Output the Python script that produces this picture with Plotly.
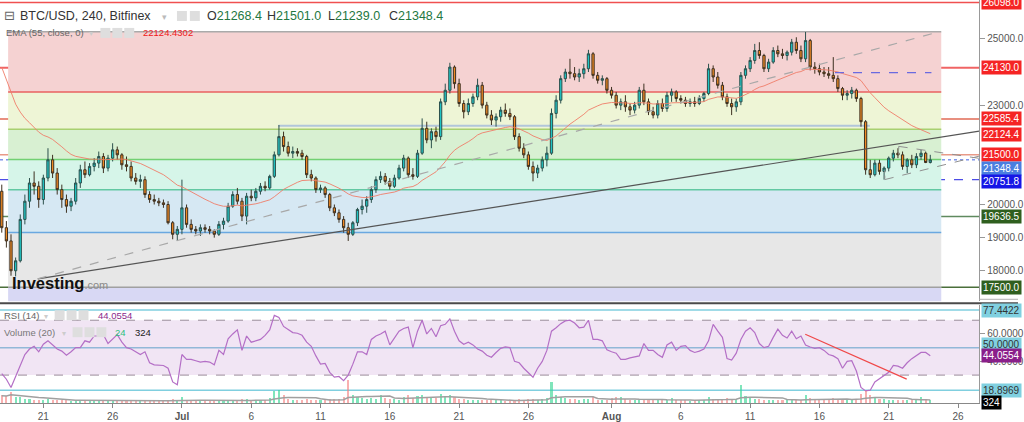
import plotly.graph_objects as go
import pandas as pd

W, H = 1024, 422
FONT = "Liberation Sans, Arial, sans-serif"

# ---------------- data (8h candles) ----------------
first_open = 20400
closes = [
    19300, 18900, 18000,  18300, 19550, 20100,  20650, 20550, 20150,  20800, 21350, 20950,
    20450, 20150, 19950,  20100, 20650, 21050,  20900, 21150, 21250,  21450, 21100, 21400,
    21650, 21500, 21200,  21150, 20800, 20700,  20750, 20300, 20150,  20100, 20050, 20000,
    19450, 19100, 19250,  19900, 19400, 19250,  19200, 19300, 19250,  19200, 19100, 19400,
    19500, 19950, 20300,  20100, 19650, 20250,  20200, 20400, 20550,  20500, 20850, 21500,
    22050, 21750, 21550,  21600, 21550, 21450,  20900, 20800, 20450,  20500, 20300, 19900,
    19750, 19550, 19300,  19100, 19450, 19850,  19950, 20150, 20450,  20750, 20850, 20700,
    20550, 20800, 21100,  21400, 20900, 20850,  21550, 22300, 21950,  22200, 22050, 23100,
    23450, 24150, 23650,  23050, 22800, 23050,  23250, 23600, 23000,  22700, 22550, 22650,
    22850, 22750, 22650,  22050, 21700, 21500,  21150, 20950, 21100,  21350, 21550, 22750,
    23150, 23800, 24000,  23950, 23850, 23950,  24100, 24550, 23900,  23750, 23800, 23450,
    23300, 23000, 23100,  22950, 22850, 23000,  23450, 23100, 22800,  22700, 23050, 22900,
    23300, 23400, 23200,  23150, 23050, 23100,  23050, 23200, 23350,  24100, 23850, 23600,
    23250, 23050, 22950,  23100, 23900, 24100,  24350, 24650, 24500,  24100, 24300, 24650,
    24550, 24500, 24600,  24900, 24650, 24400,  24950, 24150, 24100,  24000, 23950, 23900,
    23800, 23500, 23300,  23350, 23450, 23200,  22500, 21050, 20900,  21250, 21000, 21100,
    21400, 21550, 21500,  21150, 21350, 21200,  21450, 21550, 21268.4, 21348.4,
]
highs = [
    20600, 19500, 19100,  18400, 19700, 20300,  20800, 21000, 20700,  20900, 21700, 21500,
    21100, 20600, 20300,  20200, 20800, 21200,  21300, 21250, 21400,  21600, 21550, 21500,
    21850, 21750, 21550,  21450, 21300, 20950,  20900, 20850, 20400,  20300, 20200, 20150,
    20100, 19500, 19350,  20750, 20000, 19550,  19350, 19400, 19400,  19350, 19250, 19500,
    19600, 20050, 20400,  20500, 20200, 20350,  20450, 20500, 20650,  20700, 20900, 21600,
    22400, 22200, 21900,  21750, 21700, 21650,  21500, 21050, 20850,  20600, 20550, 20350,
    20000, 19850, 19650,  19450, 19500, 19900,  20150, 20250, 20550,  20850, 21000, 20950,
    20800, 20900, 21200,  21500, 21450, 21100,  21650, 22600, 22500,  22300, 22350, 23200,
    23650, 24280, 24200,  23800, 23150, 23200,  23350, 23800, 23700,  23100, 22850, 22750,
    22950, 23050, 22900,  22700, 22150, 21850,  21600, 21300, 21200,  21450, 21750, 22900,
    23300, 23900, 24100,  24400, 24150, 24100,  24250, 24670, 24600,  24000, 23900, 23850,
    23550, 23400, 23200,  23300, 23050, 23100,  23550, 23650, 23200,  22950, 23150, 23200,
    23400, 23500, 23450,  23300, 23250, 23200,  23250, 23300, 23400,  24250, 24200, 24000,
    23700, 23350, 23200,  23200, 24000, 24200,  24450, 24850, 24900,  24550, 24400, 24750,
    24800, 24700, 24650,  25000, 25050, 24800,  25210, 25000, 24300,  24250, 24150, 24150,
    24450, 23900, 23550,  23450, 23550, 23500,  23250, 22550, 21350,  21350, 21350, 21150,
    21450, 21650, 21700,  21600, 21400, 21500,  21550, 21650, 21600,  21501,
]
lows = [
    19150, 18700, 17850,  17830, 18250, 19400,  19900, 20300, 19900,  20000, 20700, 20800,
    20300, 19900, 19750,  19800, 20000, 20500,  20800, 20850, 21000,  21100, 20950, 21000,
    21300, 21350, 21050,  21000, 20700, 20600,  20500, 20200, 20050,  20000, 19950, 19900,
    19400, 18950, 18900,  19100, 19300, 19150,  19100, 19050, 19150,  19100, 19000, 19050,
    19250, 19450, 19900,  20000, 19500, 19400,  20100, 20100, 20300,  20400, 20450, 20800,
    21450, 21600, 21450,  21400, 21450, 21350,  20800, 20700, 20350,  20350, 20200, 19800,
    19650, 19450, 19150,  18900, 19050, 19350,  19700, 19750, 20050,  20350, 20650, 20600,
    20450, 20500, 20750,  21000, 20800, 20750,  20800, 21500, 21850,  21700, 21900, 21950,
    23000, 23350, 23500,  22950, 22600, 22700,  22950, 23150, 22900,  22600, 22400, 22350,
    22500, 22650, 22550,  21950, 21600, 21400,  21050, 20700, 20800,  21000, 21150, 21500,
    22600, 23050, 23700,  23800, 23750, 23700,  23800, 24000, 23800,  23650, 23600, 23350,
    23200, 22900, 22850,  22800, 22700, 22750,  22900, 23000, 22700,  22600, 22600, 22800,
    22800, 23100, 23100,  23050, 22950, 22950,  22950, 23000, 23100,  23300, 23700, 23500,
    23150, 22950, 22700,  22800, 23000, 23800,  24000, 24250, 24400,  24000, 24000, 24250,
    24450, 24400, 24350,  24500, 24550, 24300,  24300, 24050, 23950,  23900, 23850, 23800,
    23700, 23400, 23150,  23150, 23200, 23100,  22350, 20900, 20800,  20850, 20900, 20750,
    21000, 21300, 21400,  21050, 20950, 21100,  21100, 21350, 21250,  21239,
]
volumes = [
    900, 850, 1300, 750, 650, 500, 450, 380, 350,
    400, 450, 350, 300, 280, 350, 250, 300, 320, 280, 260, 300,
    250, 300, 220, 350, 260, 240, 280, 300, 250, 260, 350, 300, 240, 220, 250, 380, 450, 350,
    650, 400, 300, 200, 180, 200, 180, 200, 260, 300, 350, 400, 350, 450, 420, 300, 280, 300, 350,
    600, 1450, 1550, 900, 500,
    300, 280, 300, 420, 380, 400, 300, 350, 450, 420, 500,
    650, 2800, 950, 700, 600, 500,
    550, 450, 900, 600, 500, 450, 400, 700, 900, 600, 800, 1000, 750, 600, 550, 1050, 700, 900, 650,
    500, 450, 350, 400, 350, 300, 350, 300, 280, 300, 260, 280, 400, 420, 380, 450, 500, 400, 420,
    600, 2600, 900, 750, 600, 500, 450,
    400, 450, 500, 650, 400, 350, 320, 600, 700, 650, 450, 400, 380, 400, 450, 380, 350, 400, 380, 350, 550,
    400, 300, 280, 260, 300, 320, 350, 700, 500, 450, 450, 600, 500, 450,
    2200, 800, 600, 500, 450, 400, 350, 380, 350, 300, 300, 350, 400, 380,
    900, 600, 450, 400, 350, 400, 550, 500, 450, 400, 380, 450,
    1100, 1400, 1000, 650, 500, 450, 400, 350, 330, 380, 350, 300, 350, 650, 450, 324,
]
rsi = [
    31, 27, 21, 29, 38, 45, 49, 51, 47, 52.5, 55, 52, 49, 47.5, 44.5, 47, 50, 50, 55, 54,
    58.5, 58.5, 59.5, 53, 56, 59.5, 54, 50, 49, 47, 45, 47, 39, 37.5, 37, 37, 35, 25, 23, 45,
    41.5, 41.5, 40.5, 39.5, 40, 39.5, 37.5, 48, 45, 56.5, 60, 63, 48, 58.5, 54, 55, 56, 59, 63, 73.5,
    72, 65.5, 63, 61, 60.5, 59, 54, 51, 44, 38, 38.5, 32, 28.5, 29, 26, 30, 38, 47, 47, 45,
    56, 58.5, 60, 62, 52, 57, 62, 64, 65, 50, 62, 70, 60, 64, 58, 66, 67, 71, 62, 55,
    52.5, 54, 52, 49, 47.5, 44.5, 43, 46.5, 49.5, 50.5, 50, 40, 39, 35, 31.5, 28.5, 35, 40, 48, 62,
    64.5, 67.5, 69.5, 70, 68, 64.5, 65, 70, 56, 56, 55, 48.5, 47, 46, 41.5, 41.5, 42.5, 43.5, 44, 53,
    48, 48, 45, 43, 52, 54, 48, 51, 51.5, 48, 46.5, 47.5, 49, 55, 67, 62, 57.5, 42, 41, 46,
    56, 62, 64.5, 61, 53, 50, 51, 57.5, 63.5, 59, 57, 62, 56.5, 58.5, 52, 50.5, 49.5, 50, 48, 45,
    44, 42, 35, 40, 40.5, 33, 21, 18.5, 19, 25, 27.5, 29.5, 32, 37, 36.5, 35, 39, 42, 44, 46.5,
    46.5, 44.0554,
]
ema_seed = 24140
ema_span = 28           # EMA(55) on 4h bars ~ span 28 on 8h bars
vol_ma_window = 10

# indicator lines / levels
fib_high, fib_low = 25220, 17500
fib_ratios = [0, 0.236, 0.382, 0.5, 0.618, 0.786, 1, 1.272]
fib_band_colors = ["rgb(245,210,210)", "rgb(238,245,214)", "rgb(216,240,210)",
                   "rgb(214,245,233)", "rgb(214,232,243)", "rgb(231,231,231)", "rgb(216,216,244)"]
fib_line_colors = ["#aaaaaa", "#e86060", "#a8d070", "#72d072", "#62c8a2", "#6aa8e0", "#a0a0a0"]
fib_x0, fib_x1 = "2022-06-18 11:00", "2022-08-24 19:00"

user_levels = [26098, 24130, 22585.4, 21500, 20751.8, 19636.5, 17500]
user_colors = ["#f05050", "#f06464", "#e06a55", "#e89a88", "#4d4de6", "#5f8a5f", "#4a6f3a"]
user_widths = [1.5, 2, 1.5, 1.5, 1.2, 1.5, 1.5]
user_dash = ["solid", "solid", "solid", "solid", "dash", "solid", "solid"]
last_price = 21348.4

seg_steel = ("2022-07-07 23:00", "2022-08-19 15:20", 22380)
seg_purple = ("2022-08-17 03:00", "2022-08-24 02:00", 23985)
trend_solid = ("2022-06-20 14:20", 17756, "2022-08-27 12:46", 22214)
trend_dashed = ("2022-06-20 14:20", 17756, "2022-08-24 15:55", 25220)
chan_upper = ("2022-08-21 17:20", 21756, "2022-08-27 12:46", 21394)
chan_upper_tick = ("2022-08-21 17:20", 21756, 21506)
chan_lower = ("2022-08-20 17:15", 20753, "2022-08-27 12:46", 21461)
chan_lower_tick = ("2022-08-20 17:15", 21054, 20753)
rsi_trend = ("2022-08-14 23:30", 59.8, "2022-08-22 07:10", 27.1)
rsi_levels = [77.4422, 50, 18.8969]

main_ticks = [18000, 19000, 20000, 23000, 25000]
rsi_ticks = [40, 60]
xtick_dates = ["2022-06-21", "2022-06-26", "2022-07-01", "2022-07-06", "2022-07-11",
               "2022-07-16", "2022-07-21", "2022-07-26", "2022-08-01", "2022-08-06",
               "2022-08-11", "2022-08-16", "2022-08-21", "2022-08-26"]
xtick_text = ["21", "26", "<b>Jul</b>", "6", "11", "16", "21", "26", "<b>Aug</b>",
              "6", "11", "16", "21", "26"]

X_RANGE = ["2022-06-17 20:56", "2022-08-27 12:46"]
Y_MAIN = [17078, 26175]
Y_RSI = [9.64, 80.9]
Y_VOL = [0, 12000]

# ---------------- derived ----------------
n = len(closes)
dates = pd.date_range("2022-06-18 00:00", periods=n, freq="8h")
opens = [first_open] + closes[:-1]
alpha = 2 / (ema_span + 1)
ema = [ema_seed]
for c in closes[1:]:
    ema.append(ema[-1] + alpha * (c - ema[-1]))
vol_ma = pd.Series(volumes).rolling(vol_ma_window, min_periods=1).mean().tolist()
vcolors = ["rgba(60,215,150,0.65)" if closes[i] >= opens[i] else "rgba(245,125,125,0.6)"
           for i in range(len(volumes))]


def px(x):
    return x / W


def py(y):
    return 1 - y / H


XD = [0, 985 / W]
fig = go.Figure()

fig.add_trace(go.Candlestick(
    x=dates, open=opens, high=highs, low=lows, close=closes,
    increasing=dict(line=dict(color="#2c504c", width=1), fillcolor="#20c4c4"),
    decreasing=dict(line=dict(color="#3d3020", width=1), fillcolor="#f08a24"),
    whiskerwidth=0, hoverinfo="skip", xaxis="x", yaxis="y", showlegend=False))
fig.add_trace(go.Scatter(x=dates, y=ema, mode="lines", hoverinfo="skip",
                         line=dict(color="rgba(240,125,105,0.9)", width=1), xaxis="x", yaxis="y"))
fig.add_trace(go.Bar(x=dates[:len(volumes)], y=volumes, marker=dict(color=vcolors, line=dict(width=0)),
                     width=8 * 3600 * 1000 * 0.45, xaxis="x2", yaxis="y3", hoverinfo="skip"))
fig.add_trace(go.Scatter(x=dates[:len(vol_ma)], y=vol_ma, mode="lines", hoverinfo="skip",
                         line=dict(color="#a0a0a0", width=1.5), xaxis="x2", yaxis="y3"))
fig.add_trace(go.Scatter(x=dates[:len(rsi)], y=rsi, mode="lines", hoverinfo="skip",
                         line=dict(color="#b46fc6", width=1.2), xaxis="x2", yaxis="y2"))

shapes = []
# fib bands
for i in range(len(fib_ratios) - 1):
    p0 = fib_high - fib_ratios[i] * (fib_high - fib_low)
    p1 = fib_high - fib_ratios[i + 1] * (fib_high - fib_low)
    shapes.append(dict(type="rect", xref="x", yref="y", x0=fib_x0, x1=fib_x1, y0=p1, y1=p0,
                       fillcolor=fib_band_colors[i], line=dict(width=0), layer="below"))
for i in range(len(fib_ratios) - 1):
    p = fib_high - fib_ratios[i] * (fib_high - fib_low)
    shapes.append(dict(type="line", xref="x", yref="y", x0=fib_x0, x1=fib_x1, y0=p, y1=p,
                       line=dict(color=fib_line_colors[i], width=1.5), layer="below"))
# user horizontal levels
for lv, col, wd, ds in zip(user_levels, user_colors, user_widths, user_dash):
    shapes.append(dict(type="line", xref="x domain", yref="y", x0=0, x1=1, y0=lv, y1=lv,
                       line=dict(color=col, width=wd, dash=ds), layer="below"))
shapes.append(dict(type="line", xref="x domain", yref="y", x0=0, x1=1, y0=last_price, y1=last_price,
                   line=dict(color="#4060e0", width=1, dash="dot"), layer="below"))
shapes.append(dict(type="line", xref="x", yref="y", x0=seg_steel[0], x1=seg_steel[1],
                   y0=seg_steel[2], y1=seg_steel[2], line=dict(color="#b2c6da", width=2), layer="below"))
shapes.append(dict(type="line", xref="x", yref="y", x0=seg_purple[0], x1=seg_purple[1],
                   y0=seg_purple[2], y1=seg_purple[2], line=dict(color="#6a6ae0", width=1.2, dash="dash")))
# trend lines
shapes.append(dict(type="line", xref="x", yref="y", x0=trend_solid[0], y0=trend_solid[1],
                   x1=trend_solid[2], y1=trend_solid[3], line=dict(color="#555555", width=1.2)))
shapes.append(dict(type="line", xref="x", yref="y", x0=trend_dashed[0], y0=trend_dashed[1],
                   x1=trend_dashed[2], y1=trend_dashed[3], line=dict(color="#a8a8a8", width=1.2, dash="dash")))
for seg in (chan_upper, chan_lower):
    shapes.append(dict(type="line", xref="x", yref="y", x0=seg[0], y0=seg[1], x1=seg[2], y1=seg[3],
                       line=dict(color="#909090", width=1, dash="dash")))
for tk in (chan_upper_tick, chan_lower_tick):
    shapes.append(dict(type="line", xref="x", yref="y", x0=tk[0], x1=tk[0], y0=tk[1], y1=tk[2],
                       line=dict(color="#909090", width=1, dash="dot")))
# RSI panel
shapes.append(dict(type="rect", xref="x2 domain", yref="y2", x0=0, x1=1, y0=30, y1=70,
                   fillcolor="rgb(241,229,244)", line=dict(width=0), layer="below"))
for lv in (70, 30):
    shapes.append(dict(type="line", xref="x2 domain", yref="y2", x0=0, x1=1, y0=lv, y1=lv,
                       line=dict(color="#9a8c9a", width=1, dash="dash"), layer="below"))
for lv, col in zip(rsi_levels, ["#80cfdf", "#92b8d8", "#80cfdf"]):
    shapes.append(dict(type="line", xref="x2 domain", yref="y2", x0=0, x1=1, y0=lv, y1=lv,
                       line=dict(color=col, width=1.5), layer="below"))
shapes.append(dict(type="line", xref="x2", yref="y2", x0=rsi_trend[0], y0=rsi_trend[1],
                   x1=rsi_trend[2], y1=rsi_trend[3], line=dict(color="#f04848", width=1.2)))
# separator
shapes.append(dict(type="line", xref="paper", yref="paper", x0=0, x1=1, y0=py(304), y1=py(304),
                   line=dict(color="#4a4a4a", width=2)))
shapes.append(dict(type="line", xref="paper", yref="paper", x0=px(985), x1=1, y0=py(300), y1=py(300),
                   line=dict(color="#b0b0b0", width=1)))
# header icons
for (x0, y0) in [(178, 11), (191, 11), (101, 28), (113, 28), (125, 28),
                 (55, 311), (67, 311), (79, 311), (73, 328), (85, 328), (97, 328)]:
    shapes.append(dict(type="rect", xref="paper", yref="paper", x0=px(x0), x1=px(x0 + 10),
                       y0=py(y0 + 10), y1=py(y0), fillcolor="#dedede", line=dict(width=0)))

ann = []


def txt(x, y, t, size=10, color="#555", family=FONT):
    ann.append(dict(xref="paper", yref="paper", x=px(x), y=py(y), xanchor="left", yanchor="middle",
                    text=t, showarrow=False, font=dict(size=size, color=color, family=family)))


txt(2, 16, "⊟", 13, "#666", "DejaVu Sans")
txt(18, 16, "BTC/USD, 240, Bitfinex", 12.5, "#333")
txt(161, 17, "▾", 9, "#bbb")
for xx, lab, val in [(206, "O", "21268.4"), (267, "H", "21501.0"), (328, "L", "21239.0"), (389, "C", "21348.4")]:
    txt(xx, 16, f"{lab}<span style='color:#23773f'>{val}</span>", 12.5, "#333")
txt(4, 33, "EMA (55, close, 0)", 9.5, "#666")
txt(88, 34, "▾", 8, "#ccc")
txt(142, 33, "22124.4302", 9.5, "#f01818")
txt(2, 316, "RSI (14)", 9.5, "#666")
txt(42, 317, "▾", 8, "#ccc")
txt(97, 316, "44.0554", 9.5, "#8b2a8b")
txt(2, 333, "Volume (20)", 9.5, "#777")
txt(60, 334, "▾", 8, "#ccc")
txt(114, 333, "24", 9.5, "#2bbf7f")
txt(134, 333, "324", 9.5, "#222")
txt(10, 284, "<b>Investing</b><span style='font-size:11px;color:#8a8a8a'>.com</span>", 16.5, "#111")

main_labels = [("26098.0", 26098, "#f52424", "white", 0), ("24130.0", 24130, "#f52424", "white", 0),
               ("22585.4", 22585.4, "#f52424", "white", 0), ("22124.4", 22124.4, "#f52424", "white", 0),
               ("21500.0", 21500, "#f52424", "white", 0), ("21348.4", 21348.4, "#4a7ee0", "white", -9),
               ("20751.8", 20751.8, "#1616e6", "white", -1.5), ("19636.5", 19636.5, "#2f5f1f", "white", 0),
               ("17500.0", 17500, "#2f5f1f", "white", 0)]
for t, v, bg, fg, ys in main_labels:
    ann.append(dict(xref="paper", yref="y", x=px(987), y=v, xanchor="left", yanchor="middle",
                    text=t, showarrow=False, bgcolor=bg, borderpad=1, yshift=ys,
                    font=dict(size=10, color=fg, family=FONT)))
rsi_labels = [("77.4422", 77.4422, "#80d0e0", "#333", "y2", 0), ("50.0000", 50, "#80d0e0", "#333", "y2", 3),
              ("44.0554", 44.0554, "#8a1f8a", "white", "y2", 0), ("18.8969", 18.8969, "#80d0e0", "#333", "y2", 0),
              ("324", 324, "#000000", "white", "y3", -2)]
for t, v, bg, fg, yr, ys in rsi_labels:
    ann.append(dict(xref="paper", yref=yr, x=px(987), y=v, xanchor="left", yanchor="middle",
                    text=t, showarrow=False, bgcolor=bg, borderpad=1, yshift=ys,
                    font=dict(size=10, color=fg, family=FONT)))

axis_font = dict(size=10, color="#555", family=FONT)
fig.update_layout(
    width=W, height=H, margin=dict(l=0, r=0, t=0, b=0),
    paper_bgcolor="white", plot_bgcolor="white", showlegend=False, bargap=0,
    xaxis=dict(domain=XD, range=X_RANGE, type="date", anchor="y", showticklabels=False,
               showgrid=False, zeroline=False, showline=False, ticks="",
               rangeslider=dict(visible=False)),
    yaxis=dict(domain=[py(302), 1], range=Y_MAIN, anchor="x", side="right", showgrid=False,
               zeroline=False, showline=True, linecolor="#999", linewidth=1, ticks="outside",
               ticklen=5, tickcolor="#999", tickvals=main_ticks, tickformat=".1f", tickfont=axis_font),
    xaxis2=dict(domain=XD, range=X_RANGE, type="date", anchor="y2", showgrid=False, zeroline=False,
                showline=True, linecolor="#888", ticks="outside", ticklen=4, tickcolor="#888",
                tickvals=xtick_dates, ticktext=xtick_text, tickfont=axis_font),
    yaxis2=dict(domain=[py(404), py(306)], range=Y_RSI, anchor="x2", side="right", showgrid=False,
                zeroline=False, showline=True, linecolor="#999", ticks="outside", ticklen=5,
                tickcolor="#999", tickvals=rsi_ticks, tickformat=".4f", tickfont=axis_font),
    yaxis3=dict(range=Y_VOL, anchor="x2", overlaying="y2", visible=False),
    shapes=shapes, annotations=ann,
)

fig.write_html("out.html", config={"displayModeBar": False})
